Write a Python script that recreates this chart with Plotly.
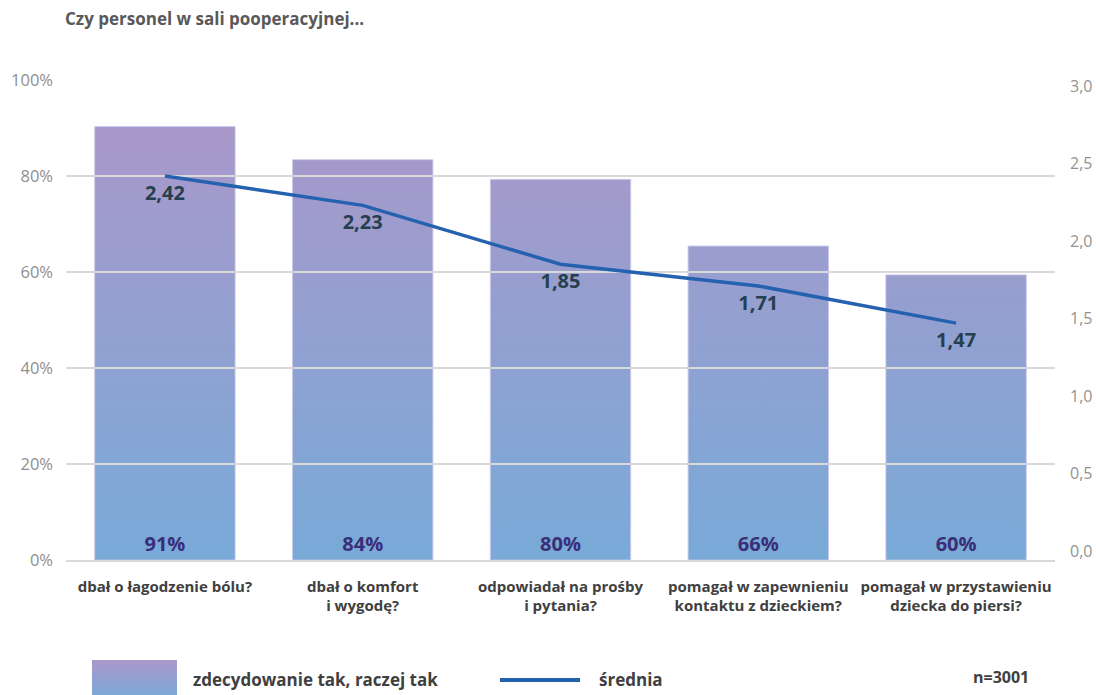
import base64
import plotly.graph_objects as go

# ---- data ----
categories = [
    "dbał o łagodzenie bólu?",
    "dbał o komfort<br>i wygodę?",
    "odpowiadał na prośby<br>i pytania?",
    "pomagał w zapewnieniu<br>kontaktu z dzieckiem?",
    "pomagał w przystawieniu<br>dziecka do piersi?",
]
pct_yes = [90.3, 83.4, 79.3, 65.4, 59.4]          # bar heights as drawn
pct_labels = ["91%", "84%", "80%", "66%", "60%"]   # labels as printed
mean_score = [2.42, 2.23, 1.85, 1.71, 1.47]
left_ticks = [0, 20, 40, 60, 80, 100]
left_tick_labels = ["0%", "20%", "40%", "60%", "80%", "100%"]
right_ticks = [0, 0.5, 1.0, 1.5, 2.0, 2.5, 3.0]

TITLE = "Czy personel w sali pooperacyjnej..."
LEGEND_BAR = "zdecydowanie tak, raczej tak"
LEGEND_LINE = "średnia"
N_NOTE = "n=3001"

# ---- styling ----
FONT = "Open Sans"
C_BOTTOM = (120, 170, 216)   # colour at 0 %
C_TOP = (174, 150, 200)      # colour at 100 %
LINE_COLOR = "#2462b0"
GRID = "#d9d9d9"
TICK_COLOR = "#8f8f8f"
TEXT_DARK = "#404040"

W, H = 1096, 695
ML, MR, MT, MB = 66, 41, 80, 135
PW, PH = W - ML - MR, H - MT - MB
BAR_W = 0.71


def mix(t):
    return "#%02x%02x%02x" % tuple(round(b + (a - b) * t) for a, b in zip(C_TOP, C_BOTTOM))


def grad_uri(top, bottom):
    svg = (
        '<svg xmlns="http://www.w3.org/2000/svg" width="10" height="100" '
        'viewBox="0 0 10 100" preserveAspectRatio="none">'
        '<defs><linearGradient id="g" x1="0" y1="0" x2="0" y2="1">'
        f'<stop offset="0" stop-color="{top}"/><stop offset="1" stop-color="{bottom}"/>'
        '</linearGradient></defs><rect width="10" height="100" fill="url(#g)"/></svg>'
    )
    return "data:image/svg+xml;base64," + base64.b64encode(svg.encode()).decode()


def px(x):
    return (x - ML) / PW


def py(y):
    return (H - MB - y) / PH


xs = list(range(len(categories)))

fig = go.Figure()
fig.add_trace(go.Bar(
    x=xs, y=pct_yes, width=BAR_W,
    marker=dict(color="rgba(0,0,0,0)", line=dict(color="rgba(200,196,232,0.9)", width=1)),
    text=pct_labels, textposition="inside", insidetextanchor="start",
    textangle=0, textfont=dict(family=FONT, size=20, color="#3b2e78", weight="bold"),
    showlegend=False, hoverinfo="skip",
))
fig.add_trace(go.Scatter(
    x=xs, y=mean_score, yaxis="y2", mode="lines+markers+text",
    line=dict(color=LINE_COLOR, width=3.5),
    marker=dict(size=13, color="rgba(0,0,0,0)"),
    text=[f"{v:.2f}".replace(".", ",") for v in mean_score],
    textposition="bottom center",
    textfont=dict(family=FONT, size=20, color="#263f4f", weight="bold"),
    showlegend=False, hoverinfo="skip",
))

images = []
for x, v in zip(xs, pct_yes):
    images.append(dict(
        source=grad_uri(mix(v / 100), mix(0)), xref="x", yref="y",
        x=x - BAR_W / 2, y=v, sizex=BAR_W, sizey=v, xanchor="left", yanchor="top",
        sizing="stretch", layer="below",
    ))
# legend swatch
images.append(dict(
    source=grad_uri(mix(0.9), mix(0.0)), xref="paper", yref="paper",
    x=px(92), y=py(660), sizex=px(177) - px(92), sizey=py(660) - py(698),
    xanchor="left", yanchor="top", sizing="stretch", layer="above",
))

annotations = [
    dict(text=f"<b>{TITLE}</b>", xref="paper", yref="paper", x=px(63), y=py(18),
         xanchor="left", yanchor="middle", showarrow=False,
         font=dict(family=FONT, size=17, color="#595959")),
    dict(text=f"<b>{LEGEND_BAR}</b>", xref="paper", yref="paper", x=px(191), y=py(679),
         xanchor="left", yanchor="middle", showarrow=False,
         font=dict(family=FONT, size=17, color=TEXT_DARK)),
    dict(text=f"<b>{LEGEND_LINE}</b>", xref="paper", yref="paper", x=px(597), y=py(679),
         xanchor="left", yanchor="middle", showarrow=False,
         font=dict(family=FONT, size=17, color=TEXT_DARK)),
    dict(text=f"<b>{N_NOTE}</b>", xref="paper", yref="paper", x=px(971), y=py(677),
         xanchor="left", yanchor="middle", showarrow=False,
         font=dict(family=FONT, size=16, color=TEXT_DARK)),
]
shapes = [dict(type="line", xref="paper", yref="paper", x0=px(500), x1=px(580),
               y0=py(680), y1=py(680), line=dict(color=LINE_COLOR, width=4))]

r_lo = -9 * 3 / 465
r_hi = 3 + 6 * 3 / 465

fig.update_layout(
    width=W, height=H, margin=dict(l=ML, r=MR, t=MT, b=MB),
    paper_bgcolor="white", plot_bgcolor="white",
    separators=", ",
    images=images, annotations=annotations, shapes=shapes,
    xaxis=dict(range=[-0.5, 4.5], tickvals=xs, ticktext=[f"<b>{c}</b>" for c in categories],
               showgrid=False, zeroline=False, showline=True, linecolor=GRID, linewidth=1.5,
               ticks="", ticklabelstandoff=12, automargin=False, tickangle=0,
               tickfont=dict(family=FONT, size=15, color=TEXT_DARK),
               fixedrange=True),
    yaxis=dict(range=[0, 100], tickvals=left_ticks, ticktext=left_tick_labels,
               showgrid=True, gridcolor=GRID, gridwidth=1.5, zeroline=False,
               ticks="", ticklabelstandoff=12, automargin=False,
               tickfont=dict(family=FONT, size=16.5, color=TICK_COLOR)),
    yaxis2=dict(range=[r_lo, r_hi], tickvals=right_ticks, tickformat=".1f",
                overlaying="y", side="right", showgrid=False, zeroline=False,
                ticks="", ticklabelstandoff=14, automargin=False,
                tickfont=dict(family=FONT, size=16, color="#939393")),
    font=dict(family=FONT),
)

fig.write_html("out.html", config={"displayModeBar": False},
               post_script="document.body.style.margin='0';")
